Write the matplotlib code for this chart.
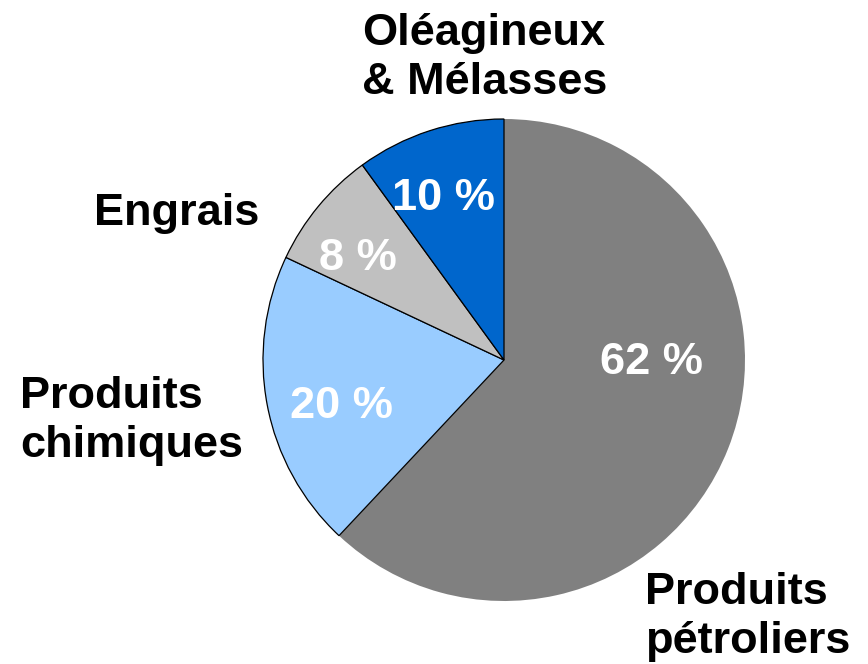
import matplotlib
matplotlib.use("Agg")
import matplotlib.pyplot as plt

categories = ["Produits\npétroliers", "Produits\nchimiques", "Engrais", "Oléagineux\n& Mélasses"]
values = [62, 20, 8, 10]
pct_labels = ["62 %", "20 %", "8 %", "10 %"]
colors = ["#808080", "#99CCFF", "#C0C0C0", "#0066CC"]

W, H = 868, 664
fig = plt.figure(figsize=(W / 100, H / 100), dpi=100)
ax = fig.add_axes([0, 0, 1, 1])

cx, cy, r = 504, H - 360, 241
wedges, _ = ax.pie(values, colors=colors, startangle=90, counterclock=False,
                   center=(cx, cy), radius=r,
                   wedgeprops=dict(edgecolor="black", linewidth=0.9))
wedges[0].set_edgecolor("none")
ax.set_xlim(0, W)
ax.set_ylim(0, H)
ax.set_aspect("equal")
ax.axis("off")

font = dict(family=["Liberation Sans", "DejaVu Sans"], fontweight="bold", fontsize=32.5)

# percentage labels (pixel positions in figure)
pct_pos = [(651, 362), (342, 407), (358, 259), (444, 198)]
for (x, y), t in zip(pct_pos, pct_labels):
    ax.text(x, H - y, t, color="white", ha="center", va="center", **font)

# category labels
cat_pos = [(645, 617, "left"), (20, 421, "left"), (177, 214, "center"), (362, 58, "left")]
for (x, y, ha), t in zip(cat_pos, categories):
    ax.text(x, H - y, t, color="black", ha=ha, va="center", linespacing=1.27, **font)

fig.savefig("out.png", dpi=100)
